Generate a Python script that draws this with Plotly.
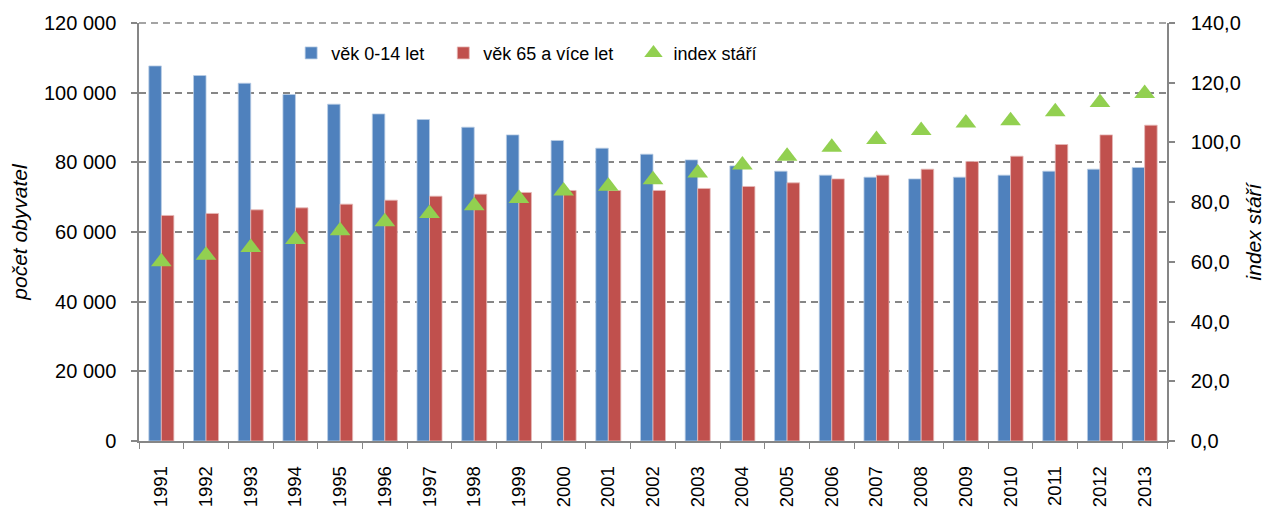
import plotly.graph_objects as go

years = [str(y) for y in range(1991, 2014)]
vek_0_14 = [107670, 104920, 102710, 99470, 96690, 93900, 92290, 90090, 87880, 86270,
            84060, 82340, 80700, 78980, 77460, 76320, 75740, 75250, 75740, 76320,
            77460, 78040, 78520]
vek_65 = [64750, 65330, 66360, 66930, 68000, 69140, 70290, 70860, 71350, 71920,
          71920, 71920, 72500, 73070, 74110, 75250, 76320, 78040, 80250, 81770,
          85120, 87880, 90660]
index_stari = [60.0, 62.2, 64.8, 67.5, 70.4, 73.4, 76.2, 78.8, 81.2, 83.7,
               85.3, 87.5, 89.8, 92.4, 95.4, 98.4, 101.0, 104.0, 106.5, 107.3,
               110.3, 113.4, 116.4]

FONT = "Liberation Sans, Arial, sans-serif"
AX = "#868686"
DASH = "7px,5px"

fig = go.Figure()
fig.add_trace(go.Bar(x=years, y=vek_0_14, name="věk 0-14 let", legend="legend",
                     marker=dict(color="#4F81BD", line=dict(color="#B9CDE5", width=0.8))))
fig.add_trace(go.Bar(x=years, y=vek_65, name="věk 65 a více let", legend="legend2",
                     marker=dict(color="#C0504D", line=dict(color="#E6B9B8", width=0.8))))
fig.add_trace(go.Scatter(x=years, y=index_stari, name="index stáří", yaxis="y2",
                         legend="legend3", mode="markers",
                         marker=dict(symbol="triangle-up", size=18, color="#92D050",
                                     line=dict(width=0))))

leg = dict(orientation="h", y=0.972, xanchor="left", yanchor="top",
           font=dict(size=18), bgcolor="rgba(0,0,0,0)", itemwidth=30)

# The page body has an 8 px margin, so the figure is 8 px smaller and its
# left and top margins are 8 px smaller.
fig.update_layout(
    width=1263, height=503,
    margin=dict(l=131, r=104, t=15, b=70, autoexpand=False),
    paper_bgcolor="white", plot_bgcolor="white",
    font=dict(family=FONT, size=18, color="#000000"),
    separators=", ",
    barmode="group", bargap=0.44, bargroupgap=0,
    showlegend=True,
    legend=dict(leg, x=0.148),
    legend2=dict(leg, x=0.296),
    legend3=dict(leg, x=0.481),
    xaxis=dict(type="category", range=[-0.5, 22.5], autorange=False,
               showline=True, linecolor=AX, linewidth=1.5,
               ticks="outside", ticklen=6, tickcolor=AX, tickwidth=1,
               tickson="boundaries", tickangle=-90, ticklabelstandoff=16,
               showgrid=False, tickfont=dict(size=18.5), automargin=False),
    yaxis=dict(range=[0, 120000], dtick=20000, tick0=0, tickformat=",d",
               showline=True, linecolor=AX, linewidth=1.5,
               ticks="outside", ticklen=6, tickcolor=AX, tickwidth=1.5,
               showgrid=True, gridcolor=AX, griddash=DASH, gridwidth=1.5,
               zeroline=False, ticklabelstandoff=11, tickfont=dict(size=20),
               automargin=False,
               title=dict(text="počet obyvatel", font=dict(size=21, style="italic"), standoff=16)),
    yaxis2=dict(range=[0, 140], dtick=20, tick0=0, tickformat=".1f", overlaying="y", side="right",
                showline=True, linecolor=AX, linewidth=1.5,
                ticks="outside", ticklen=6, tickcolor=AX, tickwidth=1.5,
                showgrid=False, zeroline=False, ticklabelstandoff=12, tickfont=dict(size=20),
                automargin=False,
                title=dict(text="index stáří", font=dict(size=21, style="italic"), standoff=6)),
    shapes=[dict(type="line", xref="paper", yref="paper", x0=0, x1=1, y0=1, y1=1,
                 layer="below", line=dict(color=AX, width=1.5, dash=DASH))],
)

fig.write_html("out.html")
